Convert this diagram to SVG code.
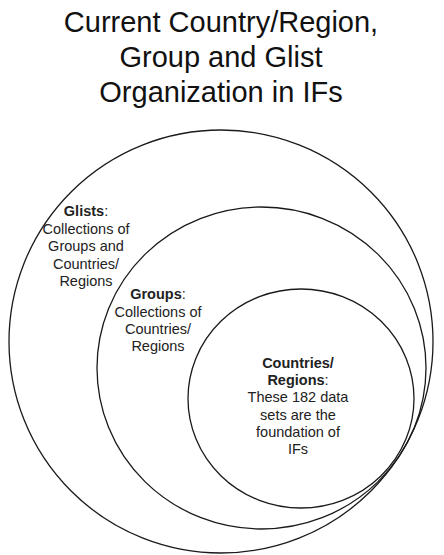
<svg xmlns="http://www.w3.org/2000/svg" width="444" height="555" viewBox="0 0 444 555">
<style>
.ring{fill:none;stroke:#1a1a1a;stroke-width:1.3}
.title{font-family:"Liberation Sans",Arial,sans-serif;font-size:29px;fill:#111;text-anchor:middle}
.lbl{font-family:"Liberation Sans",Arial,sans-serif;font-size:14.5px;fill:#222;text-anchor:middle}
.b{font-weight:bold}
</style>
<rect width="444" height="555" fill="#fff"/>
<g id="title">
<text class="title" x="221" y="32">Current Country/Region,</text>
<text class="title" x="221" y="67">Group and Glist</text>
<text class="title" x="221" y="102">Organization in IFs</text>
</g>
<g id="glists">
<ellipse class="ring" cx="221" cy="341.5" rx="212" ry="211.5"/>
<text class="lbl" x="86" y="216"><tspan class="b">Glists</tspan>:</text>
<text class="lbl" x="86" y="234">Collections of</text>
<text class="lbl" x="86" y="251">Groups and</text>
<text class="lbl" x="86" y="268.5">Countries/</text>
<text class="lbl" x="86" y="286">Regions</text>
</g>
<g id="groups">
<ellipse class="ring" cx="261.5" cy="368" rx="164.5" ry="161"/>
<text class="lbl" x="158" y="299"><tspan class="b">Groups</tspan>:</text>
<text class="lbl" x="158" y="316.5">Collections of</text>
<text class="lbl" x="158" y="334">Countries/</text>
<text class="lbl" x="158" y="351">Regions</text>
</g>
<g id="countries">
<ellipse class="ring" cx="301" cy="398.5" rx="113" ry="109.5"/>
<text class="lbl b" x="298" y="368">Countries/</text>
<text class="lbl" x="298" y="385"><tspan class="b">Regions</tspan>:</text>
<text class="lbl" x="298" y="402">These 182 data</text>
<text class="lbl" x="298" y="419.5">sets are the</text>
<text class="lbl" x="298" y="437">foundation of</text>
<text class="lbl" x="298" y="454">IFs</text>
</g>
</svg>
